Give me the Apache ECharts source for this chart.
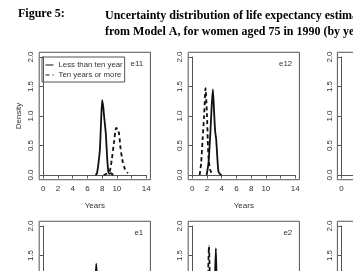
<!DOCTYPE html>
<html lang="en">
<head>
<meta charset="UTF-8">
<title>Figure 5</title>
<script src="https://cdn.jsdelivr.net/npm/echarts@6/dist/echarts.min.js"></script>
<style>
  html, body { margin: 0; padding: 0; background: #fff; }
  #chart { width: 353px; height: 271px; }
</style>
</head>
<body>
<div id="chart"></div>
<script>
// density curves, [years, density]
var e11Less = [[7.1,0],[7.3,0.03],[7.5,0.2],[7.7,0.45],[7.85,0.9],[8.0,1.27],[8.15,1.15],[8.3,0.95],[8.5,0.7],[8.7,0.25],[8.85,0.05],[9.0,0.02],[9.2,0.03],[9.5,0]];
var e11More = [[8.2,0],[8.6,0.02],[9.0,0.05],[9.3,0.25],[9.6,0.55],[9.9,0.8],[10.1,0.78],[10.3,0.7],[10.5,0.45],[10.8,0.22],[11.1,0.1],[11.5,0.03]];
var e12Less = [[1.95,0],[2.2,0.2],[2.45,0.7],[2.65,1.2],[2.8,1.45],[2.95,1.1],[3.1,0.75],[3.25,0.6],[3.4,0.3],[3.55,0.06],[3.8,0.01],[4.0,0]];
var e12More = [[1.0,0],[1.2,0.2],[1.4,0.6],[1.6,1.0],[1.8,1.47],[2.0,1.0],[2.1,0.6],[2.2,0.3],[2.4,0.1],[2.6,0.04],[2.8,0]];
var e1Less = [[6.6,0],[6.8,0.1],[7.0,0.6],[7.1,1.1],[7.2,1.36],[7.3,1.1],[7.45,0.6],[7.6,0.2],[7.8,0.03],[8.0,0]];
var e1More = [[8.0,0],[8.4,0.1],[8.7,0.5],[9.0,0.9],[9.3,0.6],[9.6,0.2],[10.0,0]];
var e2Less = [[2.7,0],[2.9,0.3],[3.05,1.0],[3.2,1.62],[3.3,1.1],[3.45,0.5],[3.6,0.1],[3.8,0]];
var e2More = [[1.7,0],[1.9,0.3],[2.1,1.0],[2.27,1.66],[2.4,1.0],[2.6,0.3],[2.8,0.05],[3.0,0]];

var panelNames = ['e11', 'e12', '', 'e1', 'e2', ''];
var panelLess = [e11Less, e12Less, null, e1Less, e2Less, null];
var panelMore = [e11More, e12More, null, e1More, e2More, null];
var xTicks = [0, 14, 2];
var yTicks = [0, 2, 0.5];

// layout of the 3x2 panels (plot area = data range, box is 4% wider like R)
var colX = [43.3, 192.3, 341.5];
var rowY = [57, 226];
var W = 103, H = 118;
var padX = 0.04 * W, padY = 0.04 * H;
var txt = '#333', frame = '#555';
var font = 'Liberation Sans';

var myChart = echarts.init(document.getElementById('chart'));

var grids = [], xAxes = [], yAxes = [], series = [], graphics = [];
for (var i = 0; i < 6; i++) {
    var c = i % 3, r = Math.floor(i / 3);
    var gx = colX[c], gy = rowY[r];
    grids.push({left: gx, top: gy, width: W, height: H, outerBoundsMode: 'none', containLabel: false});
    xAxes.push({
        gridIndex: i, type: 'value', min: xTicks[0], max: xTicks[1], interval: xTicks[2],
        offset: padY,
        name: r === 0 ? 'Years' : '', nameLocation: 'middle', nameGap: 22,
        nameTextStyle: {color: txt, fontSize: 8, fontFamily: font},
        axisLine: {show: true, lineStyle: {color: frame, width: 1}},
        axisTick: {show: true, length: 3.5, lineStyle: {color: frame}},
        axisLabel: {
            color: txt, fontSize: 8, fontFamily: font, margin: 5,
            formatter: function (v) { return v === 12 ? '' : String(v); }
        },
        splitLine: {show: false}
    });
    yAxes.push({
        gridIndex: i, type: 'value', min: yTicks[0], max: yTicks[1], interval: yTicks[2],
        offset: padX,
        name: i === 0 ? 'Density' : '', nameLocation: 'middle', nameGap: 16,
        nameTextStyle: {color: txt, fontSize: 8, fontFamily: font},
        axisLine: {show: true, lineStyle: {color: frame, width: 1}},
        axisTick: {show: true, length: 3.5, lineStyle: {color: frame}},
        axisLabel: {
            color: txt, fontSize: 8, fontFamily: font, margin: 4, rotate: 90,
            formatter: function (v) { return v.toFixed(1); }
        },
        splitLine: {show: false}
    });
    // plot box
    graphics.push({
        type: 'rect', silent: true,
        shape: {x: gx - padX, y: gy - padY, width: W + 2 * padX, height: H + 2 * padY},
        style: {fill: null, stroke: frame, lineWidth: 1}
    });
    if (panelNames[i]) {
        graphics.push({
            type: 'text', silent: true, x: gx + W - 3, y: gy + 7,
            style: {text: panelNames[i], fill: txt, font: '8px ' + font, align: 'right', verticalAlign: 'middle'}
        });
    }
    if (panelLess[i]) {
        series.push({
            name: 'Less than ten year', type: 'line', xAxisIndex: i, yAxisIndex: i,
            data: panelLess[i], showSymbol: false, symbol: 'none', smooth: 0.2,
            lineStyle: {color: '#111', width: 1.8, type: 'solid'}, itemStyle: {color: '#111'}
        });
        series.push({
            name: 'Ten years or more', type: 'line', xAxisIndex: i, yAxisIndex: i,
            data: panelMore[i], showSymbol: false, symbol: 'none', smooth: 0.2,
            lineStyle: {color: '#111', width: 1.8, type: [4, 3]}, itemStyle: {color: '#111'}
        });
    }
}

var option = {
    animation: false,
    backgroundColor: '#fff',
    title: [
        {text: 'Figure 5:', left: 13, top: 3,
         textStyle: {fontFamily: 'Liberation Serif', fontWeight: 'bold', fontSize: 12, color: '#000'}},
        {text: 'Uncertainty distribution of life expectancy estimates\nfrom Model A, for women aged 75 in 1990 (by years)',
         left: 100, top: 3,
         textStyle: {fontFamily: 'Liberation Serif', fontWeight: 'bold', fontSize: 12, color: '#000', lineHeight: 16}}
    ],
    legend: {
        data: ['Less than ten year', 'Ten years or more'],
        orient: 'vertical', left: 42, top: 57,
        itemWidth: 8, itemHeight: 8, itemGap: 2,
        padding: [4, 2, 3, 3],
        borderColor: frame, borderWidth: 1,
        itemStyle: {color: 'rgba(0,0,0,0)', borderWidth: 0},
        lineStyle: {width: 1},
        textStyle: {color: txt, fontSize: 7.8, fontFamily: font}
    },
    grid: grids,
    xAxis: xAxes,
    yAxis: yAxes,
    series: series,
    graphic: graphics
};

myChart.setOption(option);
</script>
</body>
</html>
